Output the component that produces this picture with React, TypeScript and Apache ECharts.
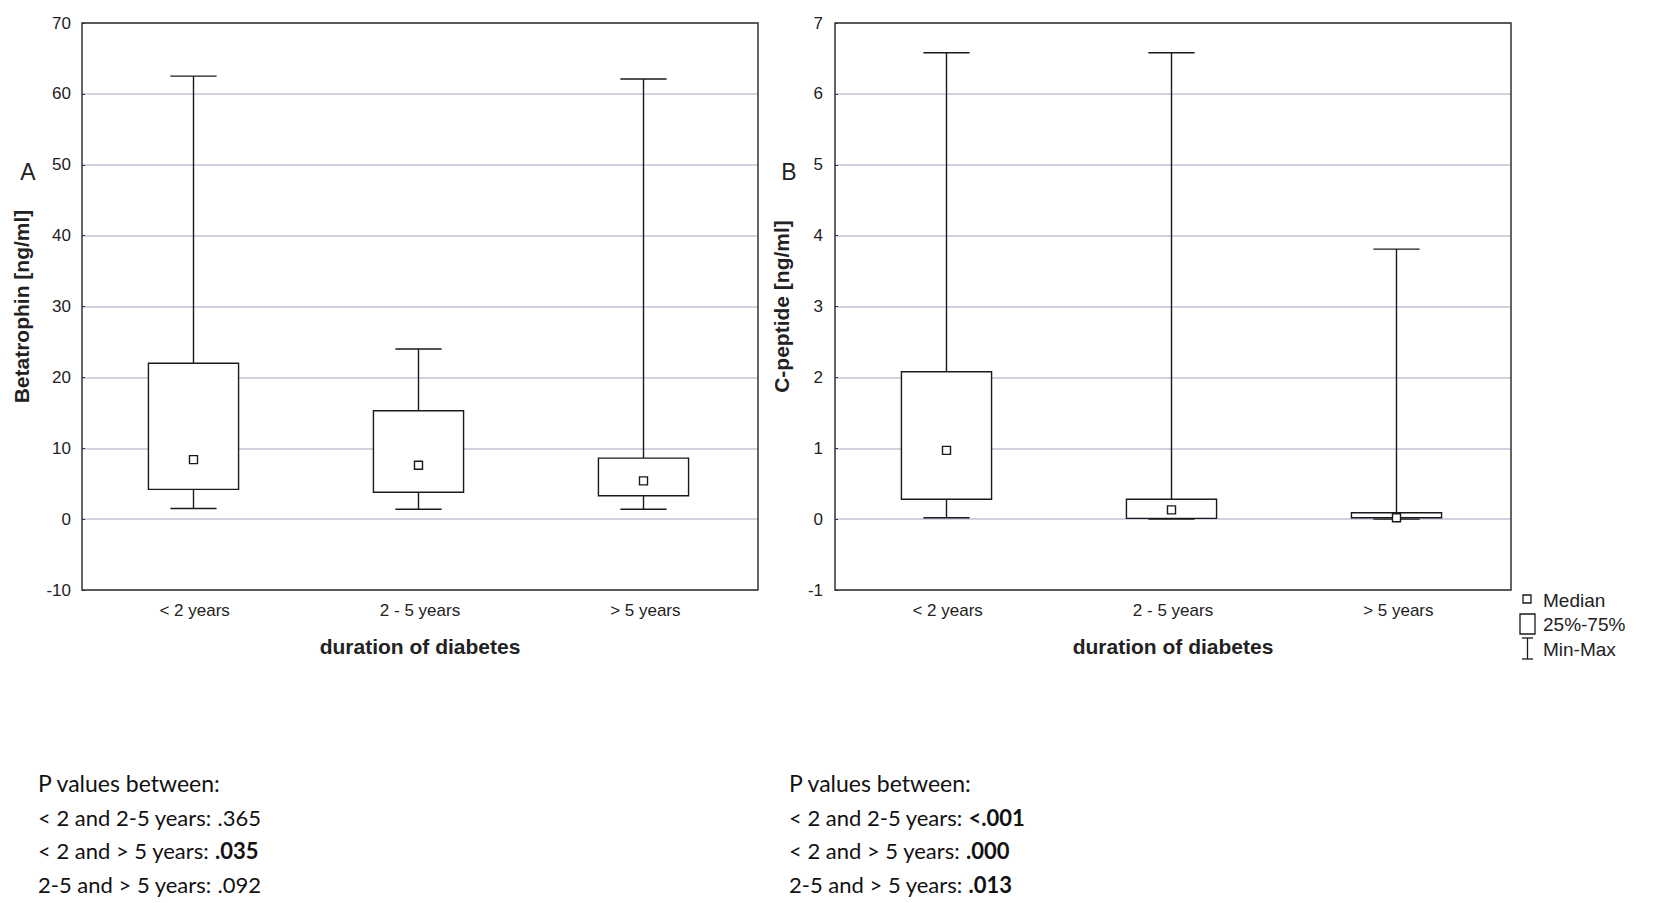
import React, { useEffect, useRef } from "react";
import * as echarts from "echarts";

const categories = ["< 2 years", "2 - 5 years", "> 5 years"];

// Panel A: Betatrophin [ng/ml]
const betaMin = [1.5, 1.4, 1.4];
const betaQ1 = [4.2, 3.8, 3.3];
const betaMedian = [8.4, 7.6, 5.4];
const betaQ3 = [22.0, 15.3, 8.6];
const betaMax = [62.5, 24.0, 62.1];

// Panel B: C-peptide [ng/ml]
const cpepMin = [0.02, 0.0, 0.0];
const cpepQ1 = [0.28, 0.01, 0.02];
const cpepMedian = [0.97, 0.13, 0.02];
const cpepQ3 = [2.08, 0.28, 0.09];
const cpepMax = [6.58, 6.58, 3.81];

const pLeftHeader = "P values between:";
const pLeftRows = [
  ["< 2 and 2-5 years: ", ".365", false],
  ["< 2 and > 5 years: ", ".035", true],
  ["2-5 and > 5 years: ", ".092", false],
];
const pRightRows = [
  ["< 2 and 2-5 years: ", "<.001", true],
  ["< 2 and > 5 years: ", ".000", true],
  ["2-5 and > 5 years: ", ".013", true],
];

const FONT = "'Liberation Sans', Arial, sans-serif";
const PFONT = "Lato, 'Open Sans', sans-serif";
const INK = "#1a1a1a";

function renderBox(params: any, api: any) {
  const x = api.value(0);
  const lo = api.coord([x, api.value(1)]);
  const q1 = api.coord([x, api.value(2)]);
  const med = api.coord([x, api.value(3)]);
  const q3 = api.coord([x, api.value(4)]);
  const hi = api.coord([x, api.value(5)]);
  const band = api.size([1, 0])[0];
  const bw = band * 0.4;
  const cw = band * 0.205;
  const cx = Math.round(lo[0]) - 1.5;
  const ls = { stroke: INK, lineWidth: 1.4, fill: null };
  return {
    type: "group",
    children: [
      { type: "line", shape: { x1: cx, y1: hi[1], x2: cx, y2: q3[1] }, style: ls },
      { type: "line", shape: { x1: cx - cw / 2, y1: hi[1], x2: cx + cw / 2, y2: hi[1] }, style: ls },
      { type: "line", shape: { x1: cx, y1: q1[1], x2: cx, y2: lo[1] }, style: ls },
      { type: "line", shape: { x1: cx - cw / 2, y1: lo[1], x2: cx + cw / 2, y2: lo[1] }, style: ls },
      {
        type: "rect",
        shape: { x: cx - bw / 2, y: q3[1], width: bw, height: Math.max(q1[1] - q3[1], 1) },
        style: { fill: "#ffffff", stroke: INK, lineWidth: 1.4 },
      },
      {
        type: "rect",
        shape: { x: cx - 4, y: med[1] - 4, width: 8, height: 8 },
        style: { fill: "#ffffff", stroke: INK, lineWidth: 1.4 },
      },
    ],
  };
}

function buildData(mn: number[], q1: number[], md: number[], q3: number[], mx: number[]) {
  return categories.map((_, i) => [i, mn[i], q1[i], md[i], q3[i], mx[i]]);
}

function pText(x: number, y: number, a: string, b: string, bold: boolean, size = 22) {
  return {
    type: "text",
    x,
    y,
    style: {
      text: b ? `{n|${a}}{${bold ? "b" : "n"}|${b}}` : `{n|${a}}`,
      verticalAlign: "middle",
      rich: {
        n: { fontFamily: PFONT, fontSize: size, fill: "#111", fontWeight: "normal" },
        b: { fontFamily: PFONT, fontSize: size, fill: "#111", fontWeight: "bold" },
      },
    },
  };
}

export default function App() {
  const ref = useRef<HTMLDivElement>(null);
  useEffect(() => {
    document.body.style.margin = "0";
    const chart = echarts.init(ref.current!, null, { renderer: "svg" });
    const gridCommon = {
      show: true,
      borderColor: "#333",
      borderWidth: 1.5,
      backgroundColor: "transparent",
      z: 10,
      top: 23,
      height: 567,
      width: 676,
    };
    const xAxisCommon = {
      type: "category",
      data: categories,
      name: "duration of diabetes",
      nameLocation: "middle",
      nameGap: 46,
      nameTextStyle: { fontFamily: FONT, fontSize: 21, fontWeight: "bold", color: "#222" },
      axisLine: { show: false },
      axisTick: { show: false },
      axisLabel: { fontFamily: FONT, fontSize: 17, color: "#222", margin: 12 },
      splitLine: { show: false },
    };
    const splitLine = { show: true, lineStyle: { color: "#c2c2de", width: 1.5 } };
    const gElems: any[] = [
      { type: "text", x: 28, y: 172, style: { text: "A", fontFamily: FONT, fontSize: 23, fill: "#222", align: "center", verticalAlign: "middle" } },
      { type: "text", x: 789, y: 172, style: { text: "B", fontFamily: FONT, fontSize: 23, fill: "#222", align: "center", verticalAlign: "middle" } },
      // legend
      { type: "rect", shape: { x: 1523, y: 595, width: 8, height: 8 }, style: { fill: "#fff", stroke: INK, lineWidth: 1.3 } },
      { type: "text", x: 1543, y: 600, style: { text: "Median", fontFamily: FONT, fontSize: 19, fill: "#222", verticalAlign: "middle" } },
      { type: "rect", shape: { x: 1520, y: 614, width: 15, height: 20 }, style: { fill: "#fff", stroke: INK, lineWidth: 1.3 } },
      { type: "text", x: 1543, y: 624, style: { text: "25%-75%", fontFamily: FONT, fontSize: 19, fill: "#222", verticalAlign: "middle" } },
      { type: "line", shape: { x1: 1527.5, y1: 638, x2: 1527.5, y2: 659 }, style: { stroke: INK, lineWidth: 1.3 } },
      { type: "line", shape: { x1: 1522, y1: 638, x2: 1533, y2: 638 }, style: { stroke: INK, lineWidth: 1.3 } },
      { type: "line", shape: { x1: 1522, y1: 659, x2: 1533, y2: 659 }, style: { stroke: INK, lineWidth: 1.3 } },
      { type: "text", x: 1543, y: 649, style: { text: "Min-Max", fontFamily: FONT, fontSize: 19, fill: "#222", verticalAlign: "middle" } },
      pText(38, 783, pLeftHeader, "", false, 23),
      pText(789, 783, pLeftHeader, "", false, 23),
    ];
    pLeftRows.forEach((r, i) => gElems.push(pText(38, 817 + i * 33.5, r[0] as string, r[1] as string, r[2] as boolean)));
    pRightRows.forEach((r, i) => gElems.push(pText(789, 817 + i * 33.5, r[0] as string, r[1] as string, r[2] as boolean)));

    chart.setOption({
      animation: false,
      backgroundColor: "#ffffff",
      grid: [
        { ...gridCommon, left: 82 },
        { ...gridCommon, left: 835 },
      ],
      xAxis: [
        { ...xAxisCommon, gridIndex: 0 },
        { ...xAxisCommon, gridIndex: 1 },
      ],
      yAxis: [
        {
          type: "value",
          gridIndex: 0,
          min: -10,
          max: 70,
          interval: 10,
          name: "Betatrophin [ng/ml]",
          nameLocation: "middle",
          nameGap: 50,
          nameTextStyle: { fontFamily: FONT, fontSize: 21, fontWeight: "bold", color: "#222" },
          axisLine: { show: false },
          axisTick: { show: true, inside: true, length: 3, lineStyle: { color: "#333" } },
          axisLabel: { fontFamily: FONT, fontSize: 17, color: "#222", margin: 11 },
          splitLine,
        },
        {
          type: "value",
          gridIndex: 1,
          min: -1,
          max: 7,
          interval: 1,
          name: "C-peptide [ng/ml]",
          nameLocation: "middle",
          nameGap: 43,
          nameTextStyle: { fontFamily: FONT, fontSize: 21, fontWeight: "bold", color: "#222" },
          axisLine: { show: false },
          axisTick: { show: true, inside: true, length: 3, lineStyle: { color: "#333" } },
          axisLabel: { fontFamily: FONT, fontSize: 17, color: "#222", margin: 12 },
          splitLine,
        },
      ],
      series: [
        {
          type: "custom",
          xAxisIndex: 0,
          yAxisIndex: 0,
          renderItem: renderBox,
          encode: { x: 0, y: [1, 2, 3, 4, 5] },
          data: buildData(betaMin, betaQ1, betaMedian, betaQ3, betaMax),
        },
        {
          type: "custom",
          xAxisIndex: 1,
          yAxisIndex: 1,
          renderItem: renderBox,
          encode: { x: 0, y: [1, 2, 3, 4, 5] },
          data: buildData(cpepMin, cpepQ1, cpepMedian, cpepQ3, cpepMax),
        },
      ],
      graphic: gElems,
    });
    return () => chart.dispose();
  }, []);
  return <div ref={ref} style={{ width: 1654, height: 903 }} />;
}
